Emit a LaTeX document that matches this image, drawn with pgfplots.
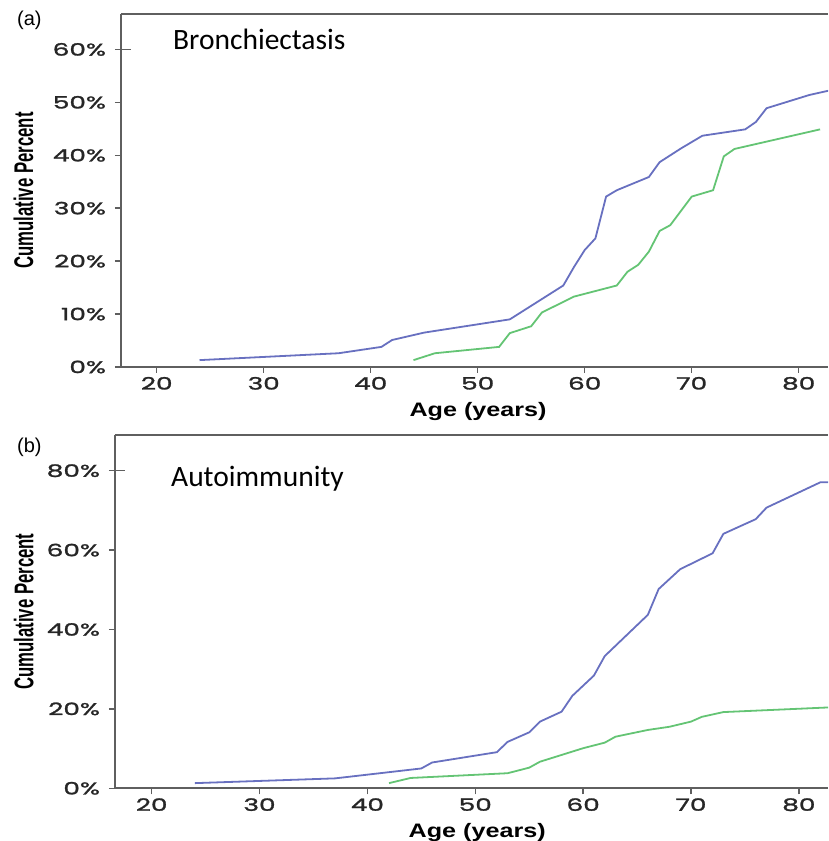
\documentclass[border=0pt]{standalone}
\usepackage{fontspec}
\setmainfont{Liberation Sans}
\newfontfamily\tickfont[FakeStretch=1.55, FakeBold=1.6]{Poppins}
\newfontfamily\titlefont{Carlito}
\newfontfamily\agefont[FakeStretch=1.29]{Liberation Sans}
\usepackage{pgfplots}
\pgfplotsset{compat=1.18}

\definecolor{blueline}{RGB}{104,112,192}
\definecolor{greenline}{RGB}{100,196,116}
\definecolor{axgray}{RGB}{95,95,95}

\pgfplotsset{
  panel/.style={
    scale only axis,
    anchor=south west,
    axis x line*=box,
    axis y line*=left,
    xtick pos=left,
    axis line style={axgray, line width=1.8pt},
    tick style={axgray, line width=1.5pt},
    tick align=outside,
    major tick length=6pt,
    y tick style={shorten >=-10pt},
    xtick={20,30,...,80},
    minor tick num=0,
    /pgf/number format/assume math mode=true,
    ticklabel style={font=\tickfont\fontsize{17}{17}\selectfont, text=black!85},
    yticklabel={\pgfmathprintnumber{\tick}\%},
    yticklabel style={xshift=-5.5pt},
    xticklabel style={yshift=-0.5pt},
    xlabel={Age (years)},
    xlabel style={font=\agefont\bfseries\fontsize{19.5}{20}\selectfont, anchor=center},
    ylabel={\scalebox{0.62}[1]{Cumulative Percent}},
    ylabel style={font=\bfseries\fontsize{27}{27}\selectfont, anchor=center, rotate=0},
    every axis plot/.append style={line width=1.8pt, no markers},
    clip=true,
  }
}

\begin{document}
\begin{tikzpicture}
\useasboundingbox (0,0) rectangle (828pt,841pt);

% (a) Bronchiectasis
\begin{axis}[panel,
  at={(121pt,474pt)},
  width=707pt, height=353pt,
  xmin=16.66, xmax=82.74,
  ymin=0, ymax=66.7,
  ytick={0,10,...,60},
  xlabel style={at={(axis description cs:0.505,-0.125)}},
  ylabel style={at={(axis description cs:-0.138,0.5)}},
]
\addplot[blueline] coordinates {
(24,1.3) (37,2.6) (41,3.8) (42,5.1) (45,6.5) (53,9.0) (58,15.4) (59,18.9)
(60,22.1) (61,24.3) (62,32.2) (63,33.4) (66,35.9) (67,38.7) (69,41.3)
(71,43.7) (75,44.9) (76,46.3) (77,48.9) (81,51.4) (83,52.3)};
\addplot[greenline] coordinates {
(44,1.3) (46,2.6) (47,2.8) (52,3.8) (53,6.4) (55,7.7) (56,10.3) (59,13.3)
(63,15.4) (64,18.0) (65,19.3) (66,21.8) (67,25.7) (68,26.8) (70,32.2)
(72,33.4) (73,39.8) (74,41.2) (82,44.9)};
\node[font=\titlefont\fontsize{29.5}{30}\selectfont, anchor=base west, inner sep=0pt]
  at (axis description cs:0.0735,0.898) {Bronchiectasis};
\end{axis}

% (b) Autoimmunity
\begin{axis}[panel,
  at={(115pt,52.7pt)},
  width=713pt, height=353.3pt,
  xmin=16.6, xmax=82.7,
  ymin=0, ymax=89,
  ytick={0,20,...,80},
  xlabel style={at={(axis description cs:0.508,-0.124)}},
  ylabel style={at={(axis description cs:-0.128,0.5)}},
]
\addplot[blueline] coordinates {
(24,1.3) (37,2.5) (45,5.0) (46,6.5) (52,9.1) (53,11.7) (55,14.1) (56,16.8)
(58,19.3) (59,23.3) (61,28.4) (62,33.3) (66,43.7) (67,50.2) (69,55.2)
(72,59.2) (73,64.1) (76,67.8) (77,70.7) (82,77.1) (83,77.1)};
\addplot[greenline] coordinates {
(42,1.3) (44,2.6) (53,3.8) (55,5.2) (56,6.7) (60,10.1) (62,11.5) (63,13.0)
(66,14.7) (68,15.5) (70,16.8) (71,18.0) (73,19.2) (83,20.4)};
\node[font=\titlefont\fontsize{29.5}{30}\selectfont, anchor=base west, inner sep=0pt]
  at (axis description cs:0.0785,0.853) {Autoimmunity};
\end{axis}

\node[anchor=west, inner sep=0pt, font=\fontsize{20}{20}\selectfont] at (17pt,821pt) {(a)};
\node[anchor=west, inner sep=0pt, font=\fontsize{20}{20}\selectfont] at (17pt,394pt) {(b)};
\end{tikzpicture}
\end{document}
